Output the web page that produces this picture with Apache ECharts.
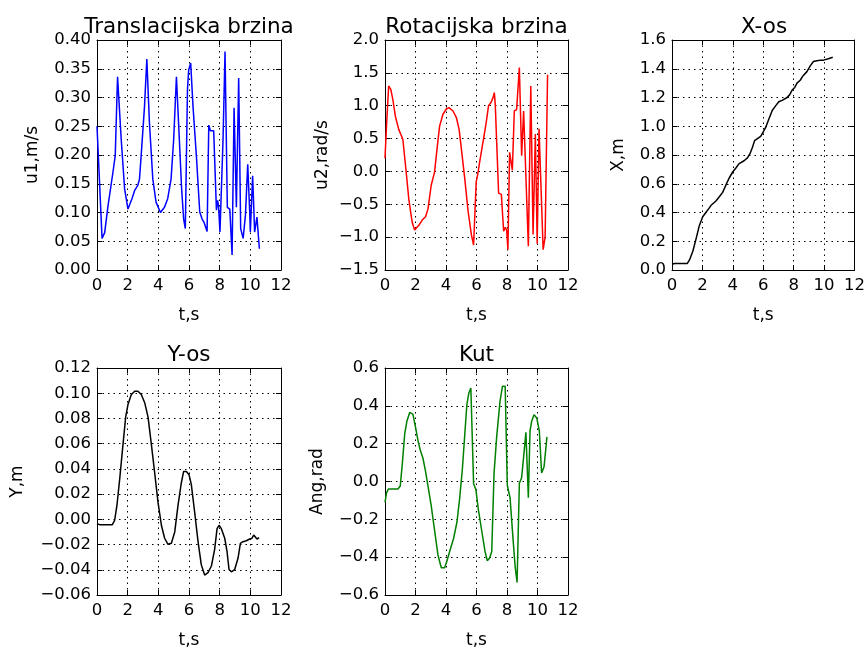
<!DOCTYPE html>
<html><head><meta charset="utf-8">
<script src="https://cdn.jsdelivr.net/npm/echarts/dist/echarts.min.js"></script>
<style>html,body{margin:0;padding:0;background:#fff}#c{width:868px;height:650px}</style>
</head><body><div id="c"></div>
<script>
// ---- data ----
const t1=[0.00,0.33,0.50,0.72,1.04,1.19,1.34,1.58,1.80,2.02,2.12,2.28,2.45,2.66,2.77,2.88,3.10,3.25,3.42,3.64,3.85,4.14,4.40,4.61,4.83,5.00,5.18,5.37,5.52,5.65,5.76,5.90,5.98,6.11,6.26,6.48,6.70,6.85,6.98,7.18,7.29,7.40,7.61,7.79,7.87,7.93,8.02,8.22,8.35,8.50,8.66,8.81,8.94,9.09,9.24,9.37,9.53,9.68,9.83,9.96,10.00,10.15,10.28,10.43,10.59];
const u1=[0.25,0.055,0.065,0.112,0.170,0.199,0.336,0.227,0.141,0.106,0.106,0.124,0.138,0.147,0.158,0.199,0.285,0.367,0.256,0.158,0.118,0.100,0.109,0.124,0.158,0.227,0.336,0.227,0.141,0.089,0.072,0.314,0.348,0.360,0.285,0.199,0.101,0.089,0.083,0.067,0.252,0.242,0.242,0.104,0.121,0.110,0.066,0.227,0.380,0.109,0.106,0.026,0.282,0.109,0.334,0.072,0.055,0.095,0.184,0.101,0.066,0.164,0.066,0.092,0.037];

const t2=[0.00,0.11,0.24,0.38,0.51,0.68,0.90,1.17,1.39,1.56,1.78,1.94,2.05,2.22,2.44,2.66,2.82,3.03,3.25,3.41,3.58,3.80,4.02,4.20,4.46,4.68,4.86,5.01,5.23,5.45,5.67,5.81,5.98,6.07,6.24,6.46,6.64,6.79,6.95,7.08,7.17,7.23,7.45,7.63,7.78,7.89,7.98,8.06,8.17,8.35,8.48,8.63,8.81,8.96,9.09,9.40,9.56,9.71,9.86,9.98,10.10,10.37,10.50,10.66];
const u2=[0.20,0.74,1.30,1.25,1.10,0.84,0.64,0.49,-0.01,-0.42,-0.77,-0.89,-0.92,-0.82,-0.74,-0.69,-0.57,-0.21,-0.01,0.34,0.69,0.87,0.95,0.97,0.92,0.82,0.64,0.34,-0.11,-0.61,-0.97,-1.12,-0.16,-0.06,0.19,0.49,0.75,1.00,1.05,1.12,1.20,1.02,-0.33,-0.35,-0.91,-0.85,-0.90,-1.19,0.29,0.02,0.92,0.94,1.58,0.24,0.92,-1.14,1.30,-0.96,0.57,-1.10,0.65,-1.19,-1.00,1.47];

const t3=[0.00,0.17,1.00,1.15,1.37,1.59,1.80,2.02,2.30,2.57,2.89,3.11,3.33,3.54,3.76,3.98,4.20,4.41,4.74,4.96,5.13,5.28,5.43,5.57,5.70,5.83,6.00,6.15,6.37,6.59,6.80,7.02,7.24,7.57,7.74,7.89,8.07,8.22,8.43,8.61,8.72,8.87,9.09,9.30,9.52,9.78,9.96,10.07,10.28,10.57];
const xpos=[0.04,0.045,0.045,0.07,0.13,0.22,0.31,0.37,0.41,0.45,0.48,0.51,0.54,0.59,0.64,0.68,0.71,0.74,0.76,0.78,0.81,0.85,0.90,0.91,0.91,0.93,0.96,0.99,1.05,1.11,1.14,1.17,1.18,1.20,1.22,1.25,1.27,1.30,1.32,1.35,1.355,1.38,1.42,1.45,1.455,1.46,1.46,1.465,1.47,1.48];

const t4=[0.00,0.17,1.00,1.15,1.30,1.48,1.70,1.87,2.02,2.24,2.46,2.67,2.89,3.11,3.33,3.54,3.76,3.98,4.20,4.41,4.63,4.85,5.07,5.28,5.50,5.65,5.83,6.00,6.15,6.37,6.59,6.80,7.02,7.24,7.46,7.67,7.83,7.96,8.11,8.33,8.48,8.61,8.76,8.98,9.20,9.35,9.52,9.74,9.96,10.10,10.22,10.33,10.43,10.57];
const ypos=[-0.0035,-0.0042,-0.0042,-0.0009,0.011,0.032,0.060,0.081,0.091,0.099,0.1016,0.1016,0.099,0.0925,0.081,0.060,0.037,0.0134,-0.0047,-0.015,-0.0198,-0.019,-0.010,0.0108,0.029,0.038,0.038,0.0354,0.0277,0.0056,-0.0177,-0.0359,-0.0442,-0.0423,-0.037,-0.024,-0.0074,-0.0047,-0.0074,-0.015,-0.0255,-0.0398,-0.0416,-0.0398,-0.0307,-0.019,-0.0177,-0.017,-0.0156,-0.0151,-0.0125,-0.0138,-0.0156,-0.0146];

const t5=[0.00,0.10,0.22,0.85,1.00,1.14,1.29,1.44,1.62,1.75,1.83,2.00,2.16,2.31,2.49,2.64,2.82,3.03,3.25,3.47,3.69,3.91,4.06,4.24,4.50,4.72,4.89,5.07,5.22,5.37,5.50,5.63,5.81,5.96,6.12,6.34,6.56,6.71,6.86,7.00,7.15,7.32,7.54,7.70,7.88,8.02,8.20,8.41,8.53,8.66,8.81,8.96,9.11,9.24,9.40,9.51,9.62,9.77,9.95,10.12,10.27,10.43,10.62];
const ang=[-0.11,-0.06,-0.04,-0.04,-0.024,0.097,0.25,0.32,0.365,0.373,0.356,0.287,0.218,0.166,0.123,0.062,-0.024,-0.128,-0.257,-0.387,-0.456,-0.456,-0.42,-0.37,-0.30,-0.214,-0.093,0.062,0.235,0.408,0.468,0.494,-0.012,-0.043,-0.147,-0.259,-0.37,-0.419,-0.404,-0.37,0.043,0.233,0.422,0.503,0.503,-0.02,-0.086,-0.319,-0.448,-0.534,-0.009,0.02,0.147,0.26,-0.086,0.267,0.319,0.353,0.336,0.267,0.045,0.078,0.236];

const titles=["Translacijska brzina","Rotacijska brzina","X-os","Y-os","Kut"];
const yNames=["u1,m/s","u2,rad/s","X,m","Y,m","Ang,rad"];
const xName="t,s";
const xMin=0, xMax=12, xStep=2;
const yMins=[0,-1.5,0,-0.06,-0.6];
const yMaxs=[0.4,2.0,1.6,0.12,0.6];
const ySteps=[0.05,0.5,0.2,0.02,0.2];
const yDecimals=[2,1,1,2,1];

// ---- layout / style ----
const FONT='DejaVu Sans';
const layout=[
  {left:97,top:40,width:184,height:230},
  {left:385,top:40,width:183,height:230},
  {left:672,top:40,width:184,height:230},
  {left:97,top:368,width:184,height:231},
  {left:385,top:368,width:183,height:231}
];
const yNameGap=[56,54,45,71,59];
const colors=['#0000ff','#ff0000','#000000','#000000','#008000'];
const tickFont=16.5, nameFont=17, titleFont=21.5;

const xs=[t1,t2,t3,t4,t5];
const ys=[u1,u2,xpos,ypos,ang];

function fmt(d){return v=>{ if(Math.abs(v)<1e-9) return (0).toFixed(d); return (v<0?'\u2212':'')+Math.abs(v).toFixed(d);};}

const xAxis=[], yAxis=[], series=[], graphic=[];
const tick={show:true,inside:true,length:5,lineStyle:{color:'#000',width:1}};
const aline={show:true,onZero:false,lineStyle:{color:'#000',width:1}};
const split={show:true,lineStyle:{color:'#000',width:1,type:[1.5,4]}};
for(let i=0;i<5;i++){
  xAxis.push({type:'value',gridIndex:i,min:xMin,max:xMax,interval:xStep,position:'bottom',
    axisLine:aline,axisTick:tick,splitLine:split,
    axisLabel:{color:'#000',fontFamily:FONT,fontSize:tickFont,margin:7,formatter:v=>String(v)},
    name:xName,nameLocation:'middle',nameGap:37,nameTextStyle:{color:'#000',fontFamily:FONT,fontSize:nameFont}});
  xAxis.push({type:'value',gridIndex:i,min:xMin,max:xMax,interval:xStep,position:'top',
    axisLine:aline,axisTick:tick,splitLine:{show:false},axisLabel:{show:false}});
  yAxis.push({type:'value',gridIndex:i,min:yMins[i],max:yMaxs[i],interval:ySteps[i],position:'left',
    axisLine:aline,axisTick:tick,splitLine:split,
    axisLabel:{color:'#000',fontFamily:FONT,fontSize:tickFont,margin:6,formatter:fmt(yDecimals[i])},
    name:yNames[i],nameLocation:'middle',nameGap:yNameGap[i],nameTextStyle:{color:'#000',fontFamily:FONT,fontSize:nameFont}});
  yAxis.push({type:'value',gridIndex:i,min:yMins[i],max:yMaxs[i],interval:ySteps[i],position:'right',
    axisLine:aline,axisTick:tick,splitLine:{show:false},axisLabel:{show:false}});
  series.push({type:'line',xAxisIndex:2*i,yAxisIndex:2*i,
    data:xs[i].map((t,k)=>[t,ys[i][k]]),
    showSymbol:false,symbol:'none',silent:true,
    lineStyle:{color:colors[i],width:1.5},itemStyle:{color:colors[i]}});
  const g=layout[i];
  graphic.push({type:'text',x:g.left+g.width/2,y:g.top-13,
    style:{text:titles[i],fill:'#000',font:titleFont+'px "'+FONT+'"',textAlign:'center',textVerticalAlign:'middle'}});
}

const chart=echarts.init(document.getElementById('c'),null,{renderer:'canvas'});
chart.setOption({backgroundColor:'#fff',animation:false,
  grid:layout.map(g=>Object.assign({containLabel:false},g)),
  xAxis,yAxis,series,graphic});
</script></body></html>
